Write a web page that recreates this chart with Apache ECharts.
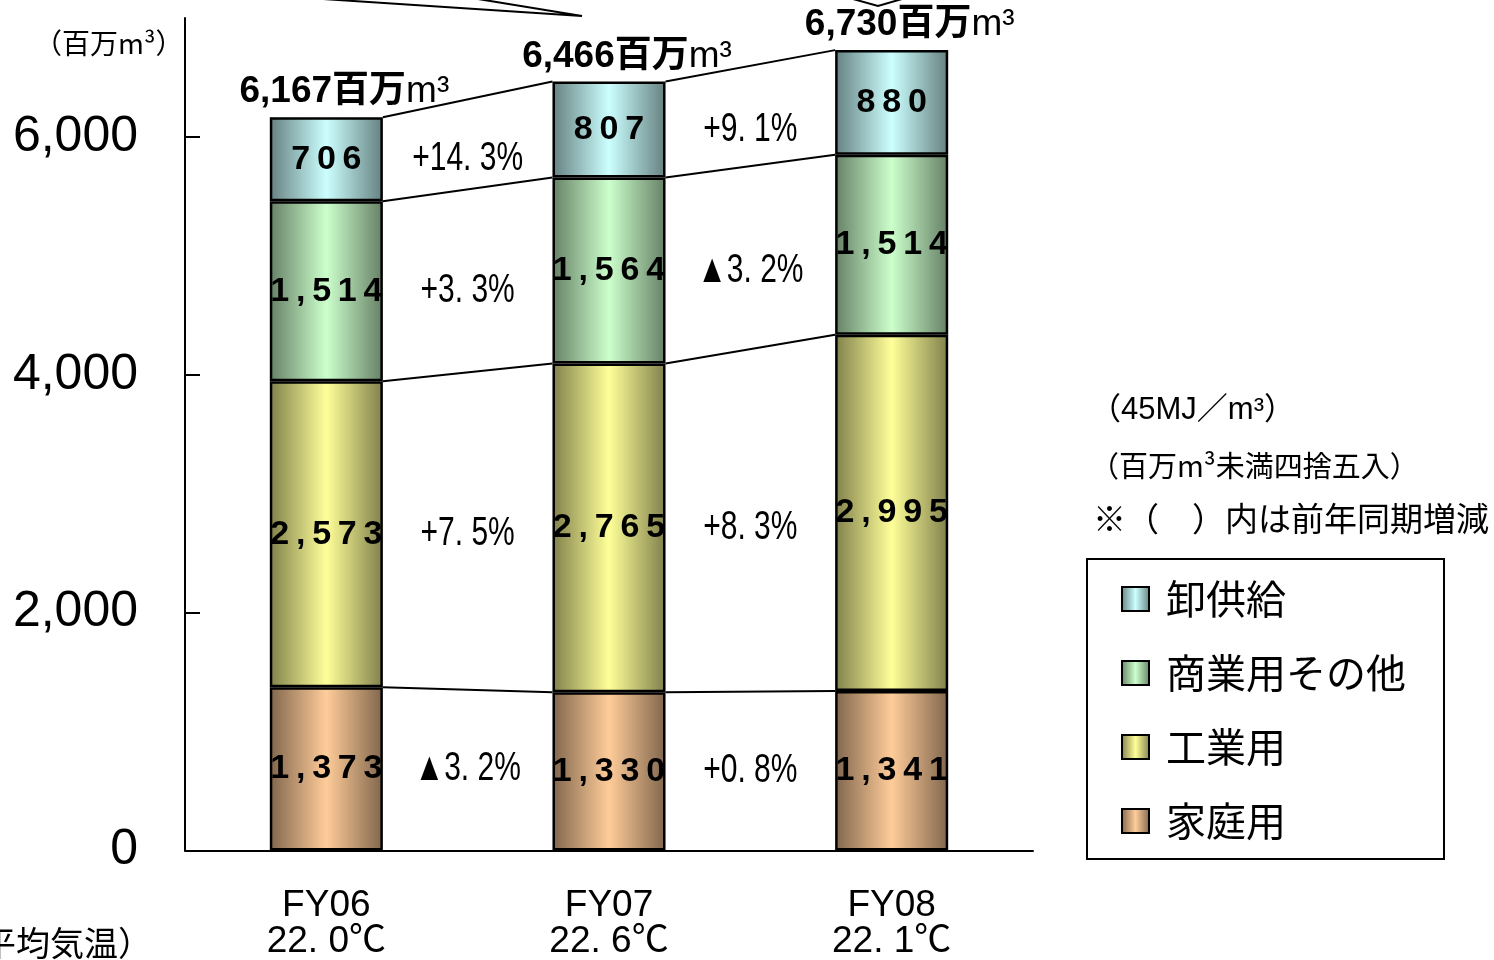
<!DOCTYPE html>
<html>
<head>
<meta charset="utf-8">
<script src="https://cdn.jsdelivr.net/npm/echarts@6/dist/echarts.min.js"></script>
<style>
  html, body { margin: 0; background: #fff; }
  #chart { width: 1494px; height: 960px; }
</style>
</head>
<body>
<div id="chart"></div>
<script>
const years = ["FY06", "FY07", "FY08"]
const temps = ["22. 0℃", "22. 6℃", "22. 1℃"]
const household = [1373, 1330, 1341]
const industrial = [2573, 2765, 2995]
const commercial = [1514, 1564, 1514]
const wholesale = [706, 807, 880]
const totals = [6167, 6466, 6730]
// year-on-year change, between FY06->FY07 and FY07->FY08
const pctHousehold = ["▲3. 2%", "+0. 8%"]
const pctIndustrial = ["+7. 5%", "+8. 3%"]
const pctCommercial = ["+3. 3%", "▲3. 2%"]
const pctWholesale = ["+14. 3%", "+9. 1%"]
const yTicks = [0, 2000, 4000, 6000]

const sans = "'Liberation Sans', 'Noto Sans CJK JP', sans-serif"
const jp = "'Noto Sans CJK JP', sans-serif"

const grad = (light, dark) => new echarts.graphic.LinearGradient(0, 0, 1, 0, [
  { offset: 0, color: dark },
  { offset: 0.5, color: light },
  { offset: 1, color: dark },
])

// wide letter spacing like the original labels
const spaced = (v) => v.toLocaleString("en-US").split("").join("\u2009")

const layers = [
  { name: "家庭用", data: household, pct: pctHousehold, color: grad("#ffcc99", "#80664d") },
  { name: "工業用", data: industrial, pct: pctIndustrial, color: grad("#ffff99", "#80804c") },
  { name: "商業用その他", data: commercial, pct: pctCommercial, color: grad("#ccffcc", "#668066") },
  { name: "卸供給", data: wholesale, pct: pctWholesale, color: grad("#ccffff", "#668080") },
]

// cumulative tops and segment middles per year
const cumTop = years.map((_, i) => {
  let s = 0
  return layers.map((l) => (s += l.data[i]))
})
const segMid = years.map((_, i) => layers.map((l, k) => cumTop[i][k] - l.data[i] / 2))

const connectorData = []
const pctData = []
const pctText = []
for (let i = 0; i < years.length - 1; i++) {
  layers.forEach((l, k) => {
    connectorData.push([i, cumTop[i][k], cumTop[i + 1][k]])
    pctData.push([i, segMid[i][k]])
    pctText.push(l.pct[i])
  })
}

const chart = echarts.init(document.getElementById("chart"))

const barSeries = layers.map((l) => ({
  name: l.name,
  type: "bar",
  stack: "total",
  barWidth: "40%",
  data: l.data,
  z: 3,
  itemStyle: { color: l.color, borderColor: "#000", borderWidth: 2.5 },
  label: {
    show: true,
    position: "inside",
    formatter: (p) => spaced(p.value),
    fontFamily: "'Liberation Sans', sans-serif",
    fontWeight: "bold",
    fontSize: 34,
    color: "#000",
  },
}))

chart.setOption({
  backgroundColor: "#fff",
  animation: false,
  grid: { left: 185, right: 461, top: 18, bottom: 108 },
  legend: {
    data: ["卸供給", "商業用その他", "工業用", "家庭用"],
    orient: "vertical",
    left: 1087,
    top: 559,
    padding: [20, 38, 18, 34],
    itemGap: 34,
    itemWidth: 27,
    itemHeight: 24,
    icon: "rect",
    borderColor: "#000",
    borderWidth: 2,
    textStyle: { fontFamily: jp, fontSize: 40, color: "#000", lineHeight: 40, padding: [0, 0, 0, 12] },
  },
  xAxis: {
    type: "category",
    data: years,
    axisLine: { lineStyle: { color: "#000", width: 2 } },
    axisTick: { inside: true, length: 15, lineStyle: { color: "#000", width: 2 } },
    axisLabel: {
      margin: 37,
      formatter: (v, i) => v + "\n" + temps[i],
      fontFamily: sans,
      fontSize: 37,
      lineHeight: 36,
      color: "#000",
    },
  },
  yAxis: {
    type: "value",
    min: 0,
    max: 7000,
    axisLine: { show: true, lineStyle: { color: "#000", width: 2 } },
    axisTick: { show: true, inside: true, length: 15, customValues: yTicks, lineStyle: { color: "#000", width: 2 } },
    axisLabel: {
      customValues: yTicks,
      margin: 47,
      formatter: (v) => v.toLocaleString("en-US"),
      fontFamily: "'Liberation Sans', sans-serif",
      fontSize: 50,
      color: "#000",
    },
    splitLine: { show: false },
  },
  series: [
    ...barSeries,
    {
      name: "connectors",
      type: "custom",
      z: 2,
      silent: true,
      data: connectorData,
      encode: { x: 0, y: [1, 2] },
      renderItem: (params, api) => {
        const i = api.value(0)
        const p1 = api.coord([i, api.value(1)])
        const p2 = api.coord([i + 1, api.value(2)])
        const half = api.size([1, 0])[0] * 0.2
        return {
          type: "line",
          shape: { x1: p1[0] + half, y1: p1[1], x2: p2[0] - half, y2: p2[1] },
          style: { stroke: "#000", lineWidth: 2 },
        }
      },
    },
    {
      name: "pct",
      type: "custom",
      z: 4,
      silent: true,
      data: pctData,
      encode: { x: 0, y: 1 },
      renderItem: (params, api) => {
        const i = api.value(0)
        const a = api.coord([i, api.value(1)])
        const b = api.coord([i + 1, api.value(1)])
        return {
          type: "text",
          x: (a[0] + b[0]) / 2,
          y: a[1],
          scaleX: 0.75,
          style: {
            text: pctText[params.dataIndex],
            align: "center",
            verticalAlign: "middle",
            font: "40px " + sans,
            fill: "#000",
          },
        }
      },
    },
    {
      name: "totals",
      type: "scatter",
      data: totals,
      symbolSize: 1,
      itemStyle: { color: "transparent", opacity: 1 },
      silent: true,
      z: 5,
      label: {
        show: true,
        position: "top",
        distance: 6,
        offset: [18, 0],
        color: "#000",
        opacity: 1,
        textBorderWidth: 0,
        formatter: (p) => "{b|" + p.value.toLocaleString("en-US") + "百万}{m|m³}",
        rich: {
          b: { fontFamily: sans, fontWeight: "bold", fontSize: 37, color: "#000" },
          m: { fontFamily: "'Liberation Sans', sans-serif", fontSize: 37, color: "#000" },
        },
      },
    },
  ],
  graphic: [
    {
      type: "text",
      left: 34,
      top: 29,
      style: { text: "（百万m³）", font: "28px " + jp, fill: "#000" },
    },
    {
      type: "text",
      x: 152,
      y: 943,
      style: { text: "（平均気温）", font: "34px " + jp, fill: "#000", align: "right", verticalAlign: "middle" },
    },
    {
      type: "text",
      x: 1090,
      y: 410,
      style: { text: "（45MJ／m³）", font: "31px " + sans, fill: "#000", verticalAlign: "middle" },
    },
    {
      type: "text",
      x: 1090,
      y: 466,
      style: { text: "（百万m³未満四捨五入）", font: "29px " + jp, fill: "#000", verticalAlign: "middle" },
    },
    {
      type: "text",
      x: 1093,
      y: 518,
      style: { text: "※（　）内は前年同期増減", font: "33px " + jp, fill: "#000", verticalAlign: "middle" },
    },
    {
      type: "polyline",
      shape: { points: [[323, -1], [582, 16], [478, -1]] },
      style: { stroke: "#000", lineWidth: 2, fill: null },
    },
    {
      type: "polyline",
      shape: { points: [[853, -1], [878, 6], [902, -1]] },
      style: { stroke: "#000", lineWidth: 2, fill: null },
    },
  ],
})
</script>
</body>
</html>
